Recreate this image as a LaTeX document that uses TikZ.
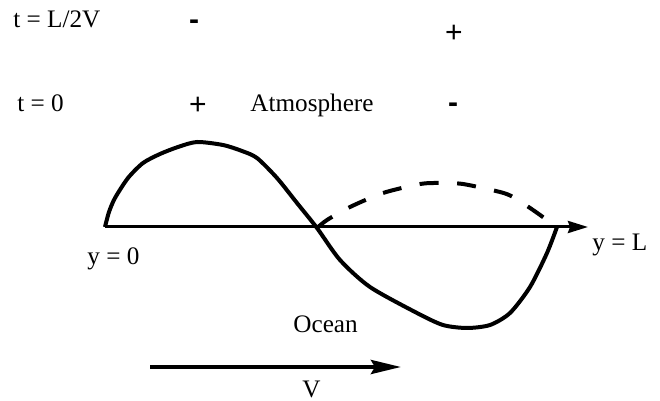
\documentclass[tikz,border=0pt]{standalone}
\usepackage{fontspec}
\setmainfont{Liberation Serif}
\newfontfamily\signfont{Liberation Sans}
\usetikzlibrary{arrows.meta}
\begin{document}
\begin{tikzpicture}[x=0.5pt,y=-0.5pt,
  lbl/.style={inner sep=0pt,anchor=base west,font=\fontsize{12.6pt}{14pt}\selectfont},
  sgn/.style={inner sep=0pt,anchor=center,font=\signfont\fontsize{15pt}{17pt}\selectfont},
  wave/.style={line width=2pt,line join=round},
  axisline/.style={line width=1.5pt,-{Stealth[length=10pt,width=6pt,inset=1pt]}},
  varrow/.style={line width=2pt,-{Stealth[length=15pt,width=7pt,inset=2pt]}}]
\useasboundingbox (0,0) rectangle (660,401);
% labels
\node[lbl] (tL) at (13,28) {t = L/2V};
\node[lbl] (t0) at (17,112) {t = 0};
\node[lbl] (atm) at (250,112) {Atmosphere};
\node[lbl] (y0) at (87,265) {y = 0};
\node[lbl] (yL) at (592,251) {y = L};
\node[lbl] (ocean) at (293,333) {Ocean};
\node[lbl] (vlab) at (302,398) {V};
\node[sgn] (m1) at (194,25) {\textbf{-}};
\node[sgn] (p1) at (454,34) {+};
\node[sgn] (p0) at (198,106) {+};
\node[sgn] (m0) at (453,108) {\textbf{-}};
% axis
\coordinate (a0) at (105,227);
\coordinate (a1) at (588,227);
\draw[axisline] (a0) -- (a1);
% solid wave
\draw[wave] plot[smooth,tension=0.45] coordinates {
 (105,227) (109,212) (115,198) (128,178) (143,163) (160,154) (178,147)
 (197,142) (223,145) (242,151) (257,158) (277,178) (297,203) (317,228)
 (340,260) (370,287) (417,313) (443,325) (467,328) (490,325) (510,313)
 (530,287) (547,253) (557,227)};
% dashed wave
\draw[wave,dash pattern=on 9.5pt off 9.3pt] plot[smooth,tension=0.45] coordinates {
 (317,228) (327,220) (350,207) (383,193) (420,184) (440,183) (463,184)
 (500,192) (513,197) (533,210) (547,220)};
% velocity arrow
\coordinate (v0) at (150,367);
\coordinate (v1) at (401,367);
\draw[varrow] (v0) -- (v1);
\end{tikzpicture}
\end{document}
